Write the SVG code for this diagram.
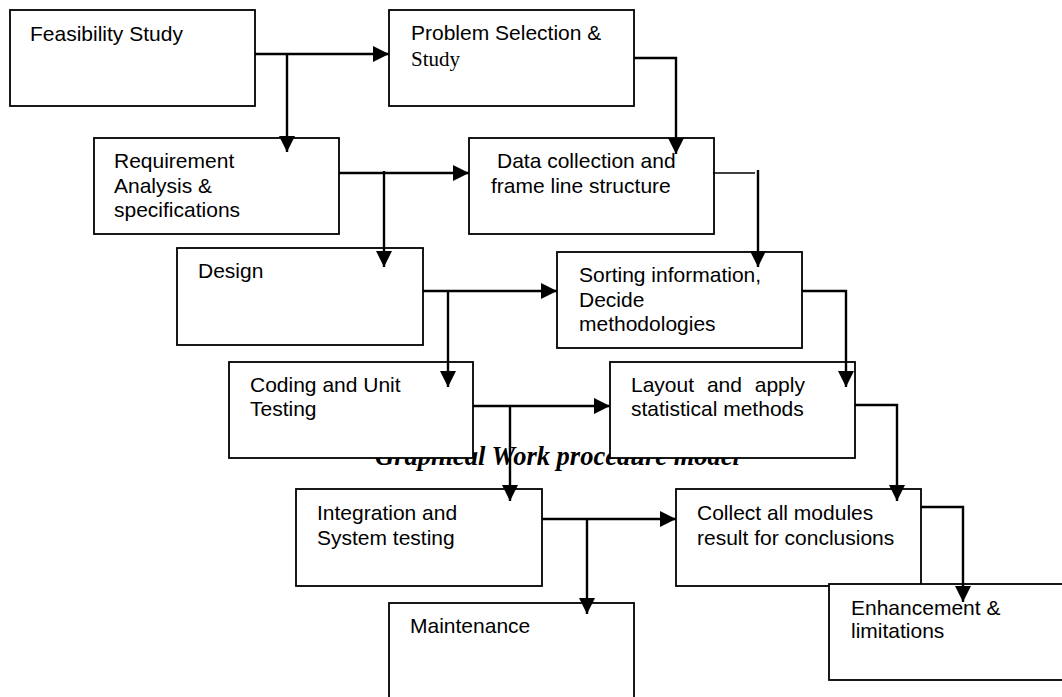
<svg xmlns="http://www.w3.org/2000/svg" width="1062" height="697" viewBox="0 0 1062 697">
<style>
.box{fill:#fff;stroke:#000;stroke-width:1.8}
.t{font-family:"Liberation Sans",Arial,sans-serif;font-size:21px;fill:#000}
.ts{font-family:"Liberation Serif","Times New Roman",serif;font-size:21px;fill:#000}
.title{font-family:"Liberation Serif","Times New Roman",serif;font-size:26.5px;font-weight:bold;font-style:italic;fill:#000}
.c{fill:none;stroke:#000;stroke-width:2.4}
.thin{fill:none;stroke:#000;stroke-width:1.4}
</style>
<defs>
<marker id="ah" markerUnits="userSpaceOnUse" markerWidth="17" markerHeight="16" refX="16" refY="8" orient="auto" viewBox="0 0 17 16">
<path d="M0,0 L16,8 L0,16 z" fill="#000"/>
</marker>
</defs>
<rect width="1062" height="697" fill="#fff"/>
<text class="title" x="375" y="465">Graphical Work procedure model</text>

<g id="feasibility"><rect class="box" x="10" y="10" width="245" height="96"/><text class="t" x="30" y="41">Feasibility Study</text></g>
<g id="problem"><rect class="box" x="389" y="10" width="245" height="96"/><text class="t" x="411" y="40">Problem Selection &amp;</text><text class="ts" x="411" y="66">Study</text></g>
<g id="requirement"><rect class="box" x="94" y="138" width="245" height="96"/><text class="t" x="114" y="168">Requirement</text><text class="t" x="114" y="193">Analysis &amp;</text><text class="t" x="114" y="217">specifications</text></g>
<g id="data"><rect class="box" x="469" y="138" width="245" height="96"/><text class="t" x="497" y="168">Data collection and</text><text class="t" x="491" y="193">frame line structure</text></g>
<g id="design"><rect class="box" x="177" y="248" width="246" height="97"/><text class="t" x="198" y="278">Design</text></g>
<g id="sorting"><rect class="box" x="557" y="252" width="245" height="96"/><text class="t" x="579" y="282">Sorting information,</text><text class="t" x="579" y="306.5">Decide</text><text class="t" x="579" y="331">methodologies</text></g>
<g id="coding"><rect class="box" x="229" y="362" width="244" height="96"/><text class="t" x="250" y="392">Coding and Unit</text><text class="t" x="250" y="416">Testing</text></g>
<g id="layout"><rect class="box" x="610" y="362" width="245" height="96"/><text class="t" x="631" y="392" word-spacing="7">Layout and apply</text><text class="t" x="631" y="416">statistical methods</text></g>
<g id="integration"><rect class="box" x="296" y="489" width="246" height="97"/><text class="t" x="317" y="520">Integration and</text><text class="t" x="317" y="545">System testing</text></g>
<g id="collect"><rect class="box" x="676" y="489" width="245" height="97"/><text class="t" x="697" y="520">Collect all modules</text><text class="t" x="697" y="545">result for conclusions</text></g>
<g id="maintenance"><rect class="box" x="389" y="603" width="245" height="96"/><text class="t" x="410" y="633">Maintenance</text></g>
<g id="enhancement"><rect class="box" x="829" y="584" width="245" height="96"/><text class="t" x="851" y="615">Enhancement &amp;</text><text class="t" x="851" y="638">limitations</text></g>

<g id="connectors">
<path class="c" d="M255,54 H389" marker-end="url(#ah)"/>
<path class="c" d="M287,54 V152" marker-end="url(#ah)"/>
<path class="c" d="M634,58 H676 V154" marker-end="url(#ah)"/>
<path class="c" d="M339,173 H469" marker-end="url(#ah)"/>
<path class="c" d="M384,171 V267" marker-end="url(#ah)"/>
<path class="thin" d="M713,173 H755"/>
<path class="c" d="M758,170 V267" marker-end="url(#ah)"/>
<path class="c" d="M423,291 H557" marker-end="url(#ah)"/>
<path class="c" d="M448,291 V387" marker-end="url(#ah)"/>
<path class="c" d="M802,291 H846 V387" marker-end="url(#ah)"/>
<path class="c" d="M473,406 H610" marker-end="url(#ah)"/>
<path class="c" d="M510,406 V501" marker-end="url(#ah)"/>
<path class="c" d="M855,405 H897 V501" marker-end="url(#ah)"/>
<path class="c" d="M542,519 H676" marker-end="url(#ah)"/>
<path class="c" d="M587,519 V614" marker-end="url(#ah)"/>
<path class="c" d="M921,507 H963 V602" marker-end="url(#ah)"/>
</g>
</svg>
